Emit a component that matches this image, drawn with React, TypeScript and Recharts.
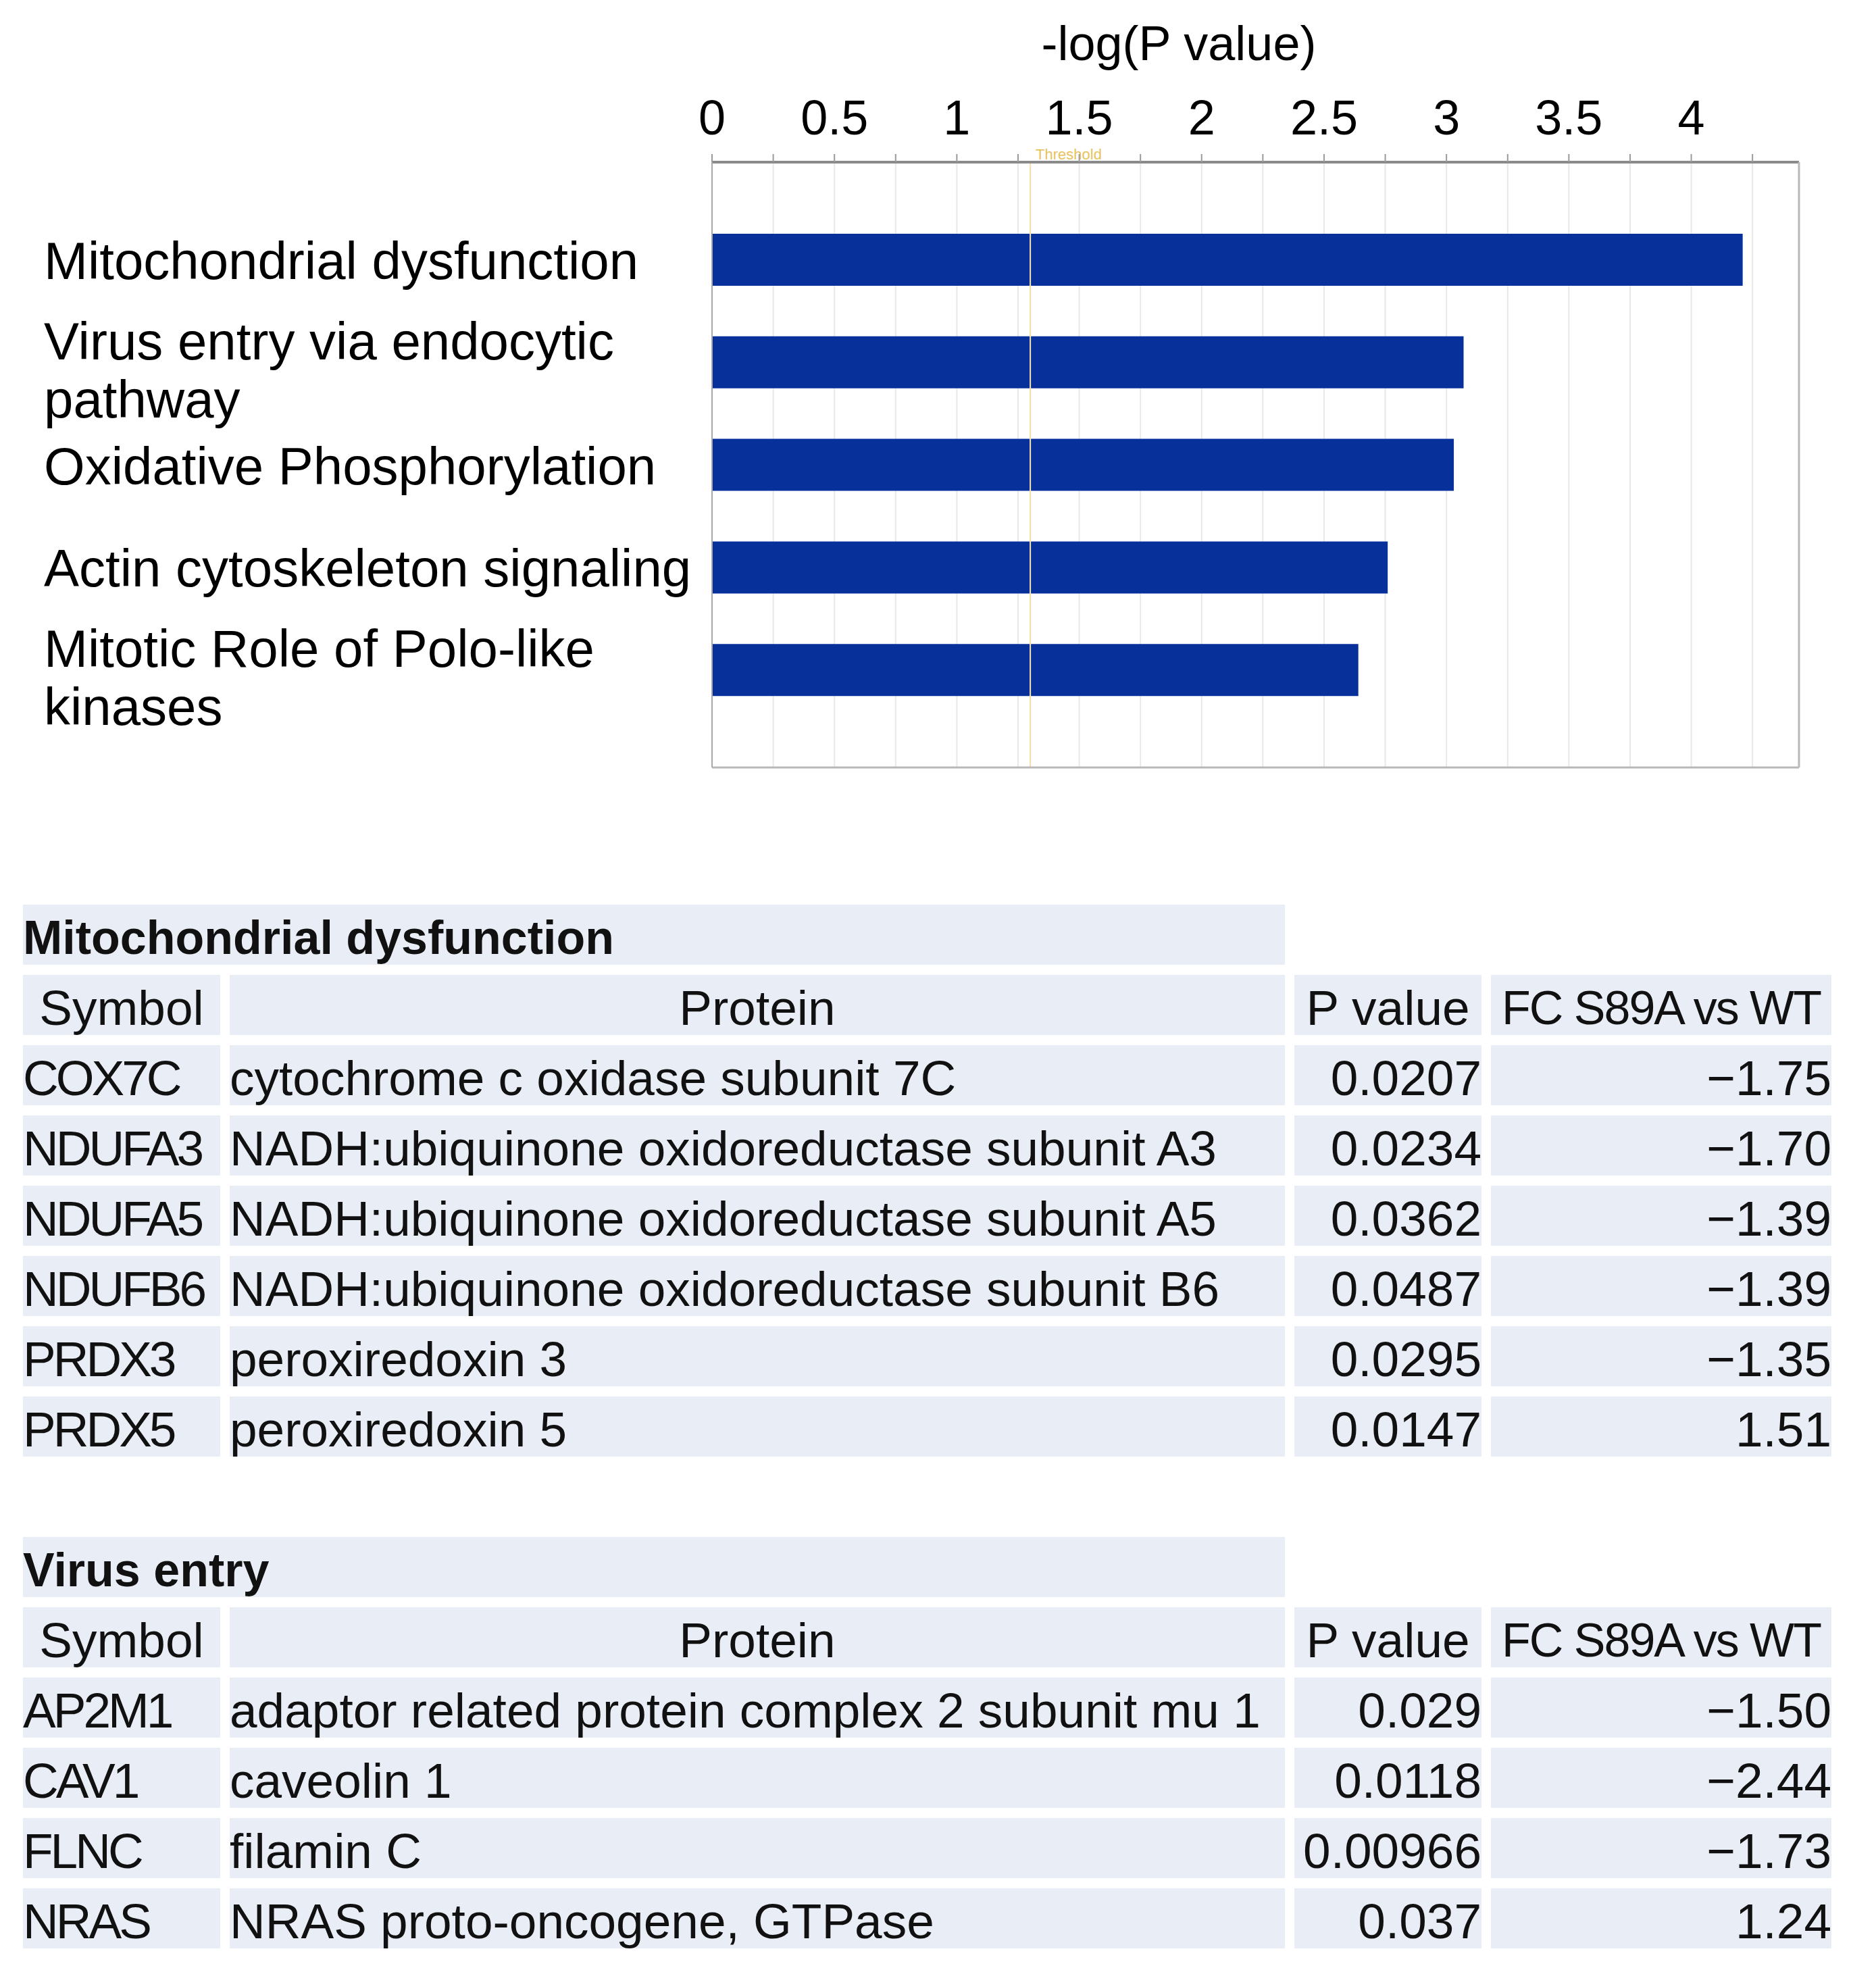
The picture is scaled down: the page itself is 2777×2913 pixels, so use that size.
import React from 'react';
import {
    BarChart,
    Bar,
    XAxis,
    YAxis,
    CartesianGrid,
    ReferenceLine,
    Label,
} from 'recharts';

// pathway enrichment (bar chart)
const pathways = [
    'Mitochondrial dysfunction',
    'Virus entry via endocytic\npathway',
    'Oxidative Phosphorylation',
    'Actin cytoskeleton signaling',
    'Mitotic Role of Polo-like\nkinases',
];
const negLogP = [4.21, 3.07, 3.03, 2.76, 2.64];
const xTicks = [0, 0.25, 0.5, 0.75, 1, 1.25, 1.5, 1.75, 2, 2.25, 2.5, 2.75, 3, 3.25, 3.5, 3.75, 4, 4.25];
const threshold = 1.3;

// table 1
const mitoSymbols = ['COX7C', 'NDUFA3', 'NDUFA5', 'NDUFB6', 'PRDX3', 'PRDX5'];
const mitoProteins = [
    'cytochrome c oxidase subunit 7C',
    'NADH:ubiquinone oxidoreductase subunit A3',
    'NADH:ubiquinone oxidoreductase subunit A5',
    'NADH:ubiquinone oxidoreductase subunit B6',
    'peroxiredoxin 3',
    'peroxiredoxin 5',
];
const mitoPValues = [0.0207, 0.0234, 0.0362, 0.0487, 0.0295, 0.0147];
const mitoFC = [-1.75, -1.70, -1.39, -1.39, -1.35, 1.51];

// table 2
const virusSymbols = ['AP2M1', 'CAV1', 'FLNC', 'NRAS'];
const virusProteins = [
    'adaptor related protein complex 2 subunit mu 1',
    'caveolin 1',
    'filamin C',
    'NRAS proto-oncogene, GTPase',
];
const virusPValues = [0.029, 0.0118, 0.00966, 0.037];
const virusFC = [-1.50, -2.44, -1.73, 1.24];

const tableHeaders = ['Symbol', 'Protein', 'P value', 'FC S89A vs WT'];

const FONT = '"Liberation Sans", Arial, sans-serif';
const BAR_BLUE = '#07309a';
const CELL_BG = '#e9edf5';

const chartData = pathways.map((name, i) => ({ name, value: negLogP[i] }));

const CategoryTick = (props: any) => {
    const { y, payload } = props;
    const lines = String(payload.value).split('\n');
    // two-line labels sit a little low, like the original
    const first = lines.length > 1 ? y - 5 : y + 28;
    return (
        <g>
            {lines.map((l, i) => (
                <text key={i} x={65} y={first + i * 86} fontFamily={FONT} fontSize={78} fill='#000'>
                    {l}
                </text>
            ))}
        </g>
    );
};

const fmtFC = (v: number) => (v < 0 ? '\u2212' : '') + Math.abs(v).toFixed(2);

interface TableProps {
    title: string;
    symbols: string[];
    proteins: string[];
    pValues: number[];
    fc: number[];
    top: number;
}

const DataTable: React.FC<TableProps> = ({ title, symbols, proteins, pValues, fc, top }) => {
    const cell = (extra: React.CSSProperties = {}): React.CSSProperties => ({
        background: CELL_BG,
        whiteSpace: 'nowrap',
        ...extra,
    });
    return (
        <div style={{
            position: 'absolute',
            left: 34,
            top,
            display: 'grid',
            gridTemplateColumns: '292px 1562px 277px 504px',
            columnGap: 14,
            rowGap: 15,
            gridAutoRows: '89px',
            fontFamily: FONT,
            fontSize: 73,
            lineHeight: '98px',
            color: '#111',
        }}>
            <div style={cell({ gridColumn: '1 / 3', fontWeight: 'bold', fontSize: 70 })}>{title}</div>
            <div />
            <div />
            {tableHeaders.map((h, i) => (
                <div
                    key={h}
                    style={cell(i === 3
                        ? { textAlign: 'center', fontSize: 70, letterSpacing: -2 }
                        : { textAlign: 'center' })}
                >
                    {h}
                </div>
            ))}
            {symbols.map((s, i) => (
                <React.Fragment key={s}>
                    <div style={cell({ letterSpacing: -4 })}>{s}</div>
                    <div style={cell()}>{proteins[i]}</div>
                    <div style={cell({ textAlign: 'right' })}>{String(pValues[i])}</div>
                    <div style={cell({ textAlign: 'right' })}>{fmtFC(fc[i])}</div>
                </React.Fragment>
            ))}
        </div>
    );
};

const App: React.FC = () => {
    return (
        <div style={{ position: 'absolute', left: 0, top: 0, width: 2777, height: 2913, background: '#fff' }}>
            <div style={{ position: 'absolute', left: 0, top: 0 }}>
                <BarChart
                    width={2777}
                    height={1139}
                    data={chartData}
                    layout='vertical'
                    margin={{ top: 0, right: 111, bottom: 0, left: 0 }}
                >
                    <CartesianGrid horizontal={false} stroke='#e8e8e8' strokeWidth={2} />
                    <XAxis
                        type='number'
                        orientation='top'
                        domain={[0, 4.44]}
                        ticks={xTicks}
                        interval={0}
                        height={240}
                        tickSize={12}
                        tickMargin={29}
                        tickFormatter={(v: number) => (v % 0.5 === 0 ? String(v) : '')}
                        tick={{ fontSize: 72, fill: '#000', fontFamily: FONT }}
                        tickLine={{ stroke: '#9a9a9a', strokeWidth: 2 }}
                        axisLine={{ stroke: '#8a8a8a', strokeWidth: 4 }}
                        allowDataOverflow
                    >
                        <Label
                            content={() => (
                                <text x={1745} y={89} textAnchor='middle' fontFamily={FONT} fontSize={72} fill='#000'>
                                    -log(P value)
                                </text>
                            )}
                        />
                    </XAxis>
                    <XAxis
                        xAxisId='bottom'
                        type='number'
                        orientation='bottom'
                        domain={[0, 4.44]}
                        height={3}
                        tick={false}
                        tickLine={false}
                        axisLine={{ stroke: '#b8b8b8', strokeWidth: 3 }}
                    />
                    <YAxis
                        type='category'
                        dataKey='name'
                        width={1054}
                        interval={0}
                        tickLine={false}
                        tick={<CategoryTick />}
                        axisLine={{ stroke: '#a8a8a8', strokeWidth: 2 }}
                        padding={{ top: 69, bottom: 68 }}
                    />
                    <YAxis
                        yAxisId='right'
                        type='category'
                        dataKey='name'
                        orientation='right'
                        width={3}
                        tick={false}
                        tickLine={false}
                        axisLine={{ stroke: '#b8b8b8', strokeWidth: 3 }}
                    />
                    <ReferenceLine
                        x={threshold}
                        stroke='#f0cf82'
                        strokeWidth={2}
                        label={(p: any) => (
                            <text x={p.viewBox.x + 8} y={p.viewBox.y - 4} fontFamily={FONT} fontSize={22} fill='#e8c25c'>
                                Threshold
                            </text>
                        )}
                    />
                    <Bar dataKey='value' fill={BAR_BLUE} barSize={77} isAnimationActive={false} />
                    <ReferenceLine x={threshold} stroke='rgba(255,255,255,0.35)' strokeWidth={2} />
                </BarChart>
            </div>
            <DataTable
                title='Mitochondrial dysfunction'
                symbols={mitoSymbols}
                proteins={mitoProteins}
                pValues={mitoPValues}
                fc={mitoFC}
                top={1339}
            />
            <DataTable
                title='Virus entry'
                symbols={virusSymbols}
                proteins={virusProteins}
                pValues={virusPValues}
                fc={virusFC}
                top={2275}
            />
        </div>
    );
};

export default App;
